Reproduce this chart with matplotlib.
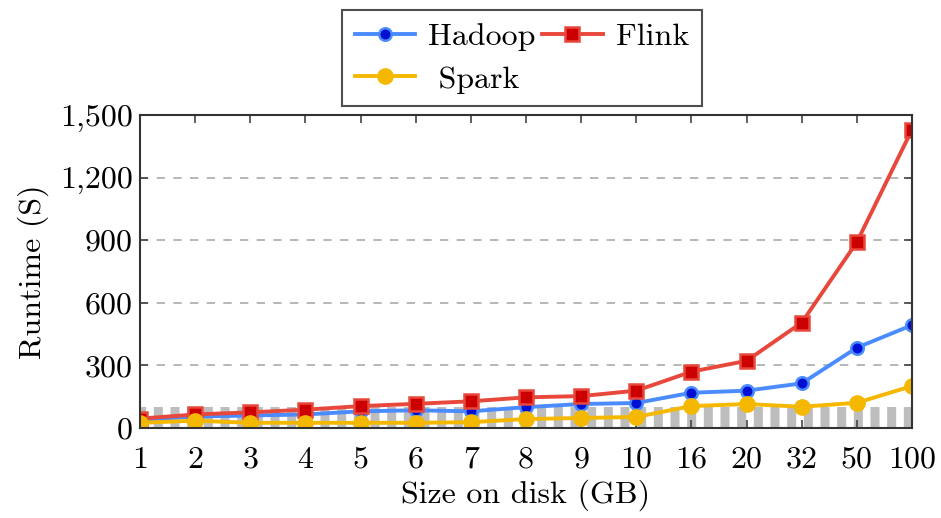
import numpy as np
import matplotlib.pyplot as plt
from matplotlib.ticker import FixedLocator, FuncFormatter

# Data (runtime in seconds per input size)
sizes = ['1', '2', '3', '4', '5', '6', '7', '8', '9', '10', '16', '20', '32', '50', '100']
hadoop = [40, 55, 60, 65, 80, 85, 80, 100, 115, 120, 169, 179, 214, 385, 493]
flink = [45, 65, 75, 88, 105, 116, 128, 147, 153, 179, 270, 322, 505, 891, 1430]
spark = [25, 35, 25, 25, 25, 25, 28, 43, 48, 53, 105, 115, 102, 121, 201]
band_top = 100          # striped gray band at the bottom
y_ticks = [0, 300, 600, 900, 1200, 1500]

plt.rcParams['font.family'] = ['cmr10', 'DejaVu Serif']
plt.rcParams['axes.formatter.use_mathtext'] = True
plt.rcParams['hatch.linewidth'] = 6.5

x = np.arange(len(sizes))

fig = plt.figure(figsize=(9.41, 5.18), dpi=100)
ax = fig.add_axes([0.1488, 0.1737, 0.8204, 0.6043])

# striped band
ax.fill_between([x[0], x[-1]], 0, band_top, facecolor='none',
                edgecolor='#bdbdbd', linewidth=0, hatch='|', zorder=1)

h, = ax.plot(x, hadoop, color='#4a8cff', lw=2.8, marker='o', ms=9,
             mfc='#0010d0', mec='#4a8cff', mew=1.8, label='Hadoop', zorder=3)
f, = ax.plot(x, flink, color='#e8473b', lw=2.8, marker='s', ms=10,
             mfc='#cc0000', mec='#e8473b', mew=1.8, label='Flink', zorder=4)
s, = ax.plot(x, spark, color='#f5b800', lw=2.8, marker='o', ms=11,
             mfc='#f5b800', mec='#f5b800', mew=1.0, label=' Spark', zorder=5)

ax.set_xlim(x[0], x[-1])
ax.set_ylim(0, 1500)
ax.set_xticks(x)
ax.set_xticklabels(sizes)
ax.yaxis.set_major_locator(FixedLocator(y_ticks))
ax.yaxis.set_major_formatter(FuncFormatter(lambda v, p: f'{int(v):,}'))
ax.tick_params(direction='in', top=True, right=True, length=6, width=1.2,
               labelsize=23, color='#444444', pad=5)
ax.tick_params(axis='x', pad=13)
ax.grid(axis='y', ls=(0, (5, 5)), color='#aaaaaa', lw=1.2)
for sp in ax.spines.values():
    sp.set_color('#333333')
    sp.set_linewidth(1.5)
    sp.set_zorder(6)

ax.set_xlabel('Size on disk (GB)', fontsize=23, labelpad=4)
ax.set_ylabel('Runtime (S)', fontsize=23, labelpad=8)

leg = fig.legend(handles=[h, s, f], loc='upper center', bbox_to_anchor=(0.5545, 1.012),
                 ncol=2, fontsize=23, frameon=True, fancybox=False,
                 edgecolor='#222222', handlelength=1.9, columnspacing=0.2,
                 handletextpad=0.4, borderpad=0.4, labelspacing=0.45)
leg.get_frame().set_linewidth(1.5)

fig.savefig('out.png', dpi=100)
